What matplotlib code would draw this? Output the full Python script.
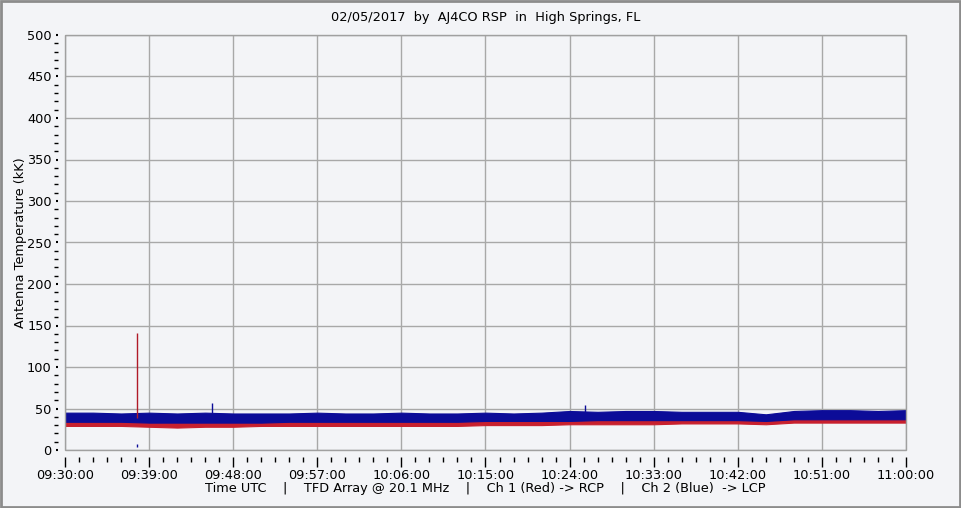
import matplotlib.pyplot as plt
import numpy as np
from matplotlib.patches import Rectangle

# minutes after 09:30:00 UTC
t = np.arange(0, 91, 3)
blue_top = np.array([45, 45, 44, 45, 44, 45, 44, 44, 44, 45, 44, 44, 45, 44, 44, 45,
                     44, 45, 47, 46, 47, 47, 46, 46, 46, 43, 47, 48, 48, 47, 48])
blue_bot = np.array([34, 34, 34, 33, 33, 33, 33, 33, 34, 34, 34, 34, 34, 34, 34, 35,
                     35, 35, 35, 36, 36, 36, 36, 36, 36, 35, 37, 37, 37, 37, 37])
red_top = np.array([39, 39, 38, 38, 38, 38, 38, 38, 38, 39, 38, 38, 39, 38, 38, 39,
                    39, 39, 40, 40, 40, 40, 40, 40, 40, 39, 41, 41, 41, 41, 41])
red_bot = np.array([29, 29, 29, 28, 27, 28, 28, 29, 29, 29, 29, 29, 29, 29, 29, 30,
                    30, 30, 31, 31, 31, 31, 32, 32, 32, 31, 33, 33, 33, 33, 33])

# isolated spikes: (minute, low, high)
red_spikes = [(7.7, 38, 141)]
blue_spikes = [(15.7, 44, 57), (55.7, 46, 54), (7.7, 4, 7)]

tick_min = np.arange(0, 91, 9)
tick_labels = ['09:30:00', '09:39:00', '09:48:00', '09:57:00', '10:06:00', '10:15:00',
               '10:24:00', '10:33:00', '10:42:00', '10:51:00', '11:00:00']

bg = '#f3f4f7'
fs = 9.3

fig = plt.figure(figsize=(9.62, 5.08), dpi=100, facecolor=bg)
ax = fig.add_axes([65/962, 58/508, 841/962, 415/508])
ax.set_facecolor(bg)

ax.fill_between(t, red_bot, red_top, color='#c8202e', lw=0.8, edgecolor='#c8202e')
ax.fill_between(t, blue_bot, blue_top, color='#0c0c98', lw=0.8, edgecolor='#0c0c98')
for x, lo, hi in red_spikes:
    ax.vlines(x, lo, hi, color='#b01a28', lw=1)
for x, lo, hi in blue_spikes:
    ax.vlines(x, lo, hi, color='#0c0c98', lw=1)

ax.set_xlim(0, 90)
ax.set_ylim(0, 500)
ax.set_xticks(tick_min, tick_labels)
ax.set_xticks(np.arange(0, 91, 1.5), minor=True)
ax.set_yticks(np.arange(0, 501, 50))
ax.set_yticks(np.arange(0, 501, 10), minor=True)
ax.grid(True, which='major', color='#a8a8a8', lw=1)
ax.set_axisbelow(True)

for s in ax.spines.values():
    s.set_visible(False)
ax.spines['left'].set_position(('outward', 5))
ax.spines['bottom'].set_position(('outward', 5))
ax.add_patch(Rectangle((0, 0), 1, 1, transform=ax.transAxes, fill=False,
                       edgecolor='#a0a0a0', lw=1, clip_on=False, zorder=5))

ax.tick_params(axis='y', which='major', length=1.5, width=1.5, pad=3, labelsize=fs, colors='black')
ax.tick_params(axis='y', which='minor', length=3, width=1)
ax.tick_params(axis='x', which='major', length=7, width=1, pad=2, labelsize=fs)
ax.tick_params(axis='x', which='minor', length=3.5, width=1)

ax.set_ylabel('Antenna Temperature (kK)', fontsize=fs, labelpad=0)
ax.set_xlabel('Time UTC    |    TFD Array @ 20.1 MHz    |    Ch 1 (Red) -> RCP    |    Ch 2 (Blue)  -> LCP',
              fontsize=fs, labelpad=0)
ax.set_title('02/05/2017  by  AJ4CO RSP  in  High Springs, FL', fontsize=fs, pad=10)

fig.add_artist(Rectangle((0.001, 0.002), 0.997, 0.996, transform=fig.transFigure,
                         fill=False, edgecolor='#8c8c8c', lw=2))

fig.savefig('out.png', dpi=100, facecolor=bg)
